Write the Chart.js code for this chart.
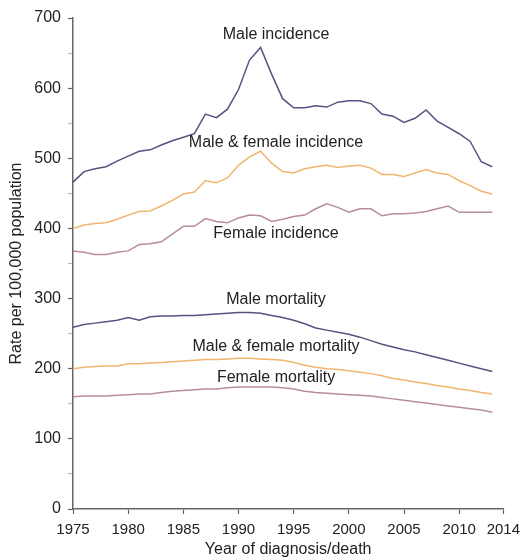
<!DOCTYPE html>
<html>
<head>
<meta charset="utf-8">
<script src="https://cdn.jsdelivr.net/npm/chart.js@4"></script>
<style>
  html, body { margin: 0; padding: 0; background: #ffffff; }
  canvas { display: block; }
</style>
</head>
<body>
<canvas id="c" width="527" height="560"></canvas>
<script>
const years = [1975,1976,1977,1978,1979,1980,1981,1982,1983,1984,1985,1986,1987,1988,1989,1990,1991,1992,1993,1994,1995,1996,1997,1998,1999,2000,2001,2002,2003,2004,2005,2006,2007,2008,2009,2010,2011,2012,2013];

const maleIncidence = [466,481,485,488,496,503,510,512,519,525,530,535,563,558,570,598,640,658,620,585,572,572,575,573,580,582,582,578,563,560,551,557,569,553,544,535,524,495,488];
const bothIncidence = [400,405,407,408,413,419,424,425,432,440,449,452,468,465,472,490,502,510,493,481,479,485,488,490,487,489,490,486,477,477,474,479,484,479,477,468,461,453,449];
const femaleIncidence = [368,366,363,363,366,368,377,378,381,392,403,403,414,410,408,415,419,418,410,413,417,419,428,435,430,423,428,428,418,421,421,422,424,428,432,423,423,423,423];
const maleMortality = [259,263,265,267,269,273,269,274,275,275,276,276,277,278,279,280,280,279,276,273,269,264,258,255,252,249,245,240,235,231,227,224,220,216,212,208,204,200,196];
const bothMortality = [200,202,203,204,204,207,207,208,209,210,211,212,213,213,214,215,215,214,213,212,209,205,202,200,199,197,195,193,190,186,184,181,179,176,174,171,169,166,164];
const femaleMortality = [160,161,161,161,162,163,164,164,166,168,169,170,171,171,173,174,174,174,174,173,171,168,166,165,164,163,162,161,159,157,155,153,151,149,147,145,143,141,138];

const xTickValues = [1975,1980,1985,1990,1995,2000,2005,2010,2014];

const seriesLabels = ['Male incidence','Male & female incidence','Female incidence','Male mortality','Male & female mortality','Female mortality'];
const labelYears = [1993.4,1993.4,1993.4,1993.4,1993.4,1993.4];
const labelValues = [676,523,393,298,231,188];

const colMale = '#52557f';
const colBoth = '#f0b56e';
const colFemale = '#b68ca2';

function pts(arr){ return years.map((y,i)=>({x:y, y:arr[i]})); }
function ds(label, arr, color){
  return { label, data: pts(arr), borderColor: color, backgroundColor: color,
    borderWidth: 1.5, pointRadius: 0, tension: 0, fill: false };
}

const labelPlugin = {
  id: 'seriesLabels',
  afterDatasetsDraw(chart){
    const ctx = chart.ctx;
    const xs = chart.scales.x, ys = chart.scales.y;
    ctx.save();
    ctx.font = '16px "Liberation Sans", Arial, sans-serif';
    ctx.fillStyle = '#222';
    ctx.textAlign = 'center';
    ctx.textBaseline = 'middle';
    seriesLabels.forEach((t,i)=>{
      ctx.fillText(t, xs.getPixelForValue(labelYears[i]), ys.getPixelForValue(labelValues[i]));
    });
    ctx.restore();
  }
};

new Chart(document.getElementById('c'), {
  type: 'line',
  data: {
    datasets: [
      ds('Male incidence', maleIncidence, colMale),
      ds('Male & female incidence', bothIncidence, colBoth),
      ds('Female incidence', femaleIncidence, colFemale),
      ds('Male mortality', maleMortality, colMale),
      ds('Male & female mortality', bothMortality, colBoth),
      ds('Female mortality', femaleMortality, colFemale)
    ]
  },
  options: {
    responsive: false,
    animation: false,
    layout: { padding: { left: 0, right: 22, top: 18, bottom: 0 } },
    plugins: { legend: { display: false }, tooltip: { enabled: false } },
    scales: {
      x: {
        type: 'linear', min: 1975, max: 2014,
        afterBuildTicks: s => { s.ticks = xTickValues.map(v => ({ value: v })); },
        afterFit: s => { s.height = 51; },
        ticks: { autoSkip: false, maxRotation: 0, color: '#222', padding: 7,
          font: { family: '"Liberation Sans", Arial, sans-serif', size: 15 },
          callback: v => String(v) },
        grid: { drawOnChartArea: false, tickLength: 5, tickColor: '#666', tickWidth: 1.2 },
        border: { color: '#666', width: 1.5 },
        title: { display: true, text: 'Year of diagnosis/death', color: '#222',
          font: { family: '"Liberation Sans", Arial, sans-serif', size: 16 },
          padding: { top: 0, bottom: 1 } }
      },
      y: {
        min: 0, max: 700,
        afterFit: s => { s.width = 73; },
        ticks: { stepSize: 50, color: '#222', padding: 7,
          font: { family: '"Liberation Sans", Arial, sans-serif', size: 16 },
          callback: v => (v % 100 === 0 ? String(v) : '') },
        grid: { drawOnChartArea: false, tickLength: 5,
          tickColor: c => (c.tick && c.tick.value % 100 === 0 ? '#666' : '#bbb'), tickWidth: 1.2 },
        border: { color: '#666', width: 1.5 },
        title: { display: true, text: 'Rate per 100,000 population', color: '#222',
          font: { family: '"Liberation Sans", Arial, sans-serif', size: 16 },
          padding: { top: 7, bottom: 0 } }
      }
    }
  },
  plugins: [labelPlugin]
});
</script>
</body>
</html>
